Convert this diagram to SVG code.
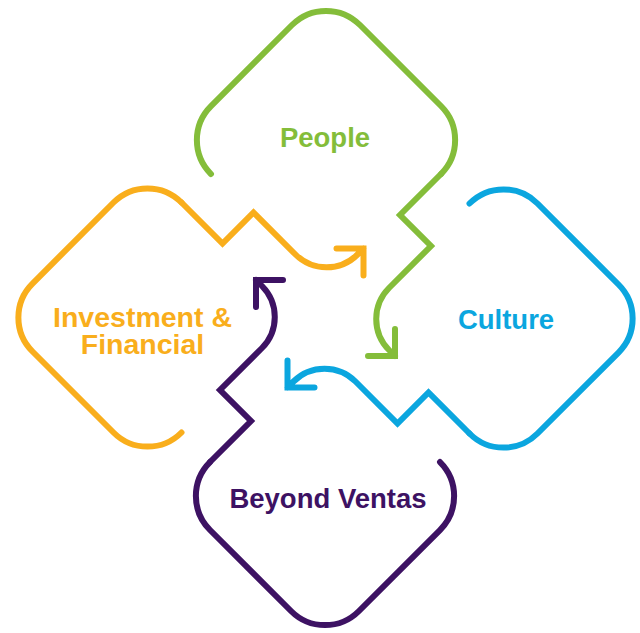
<svg xmlns="http://www.w3.org/2000/svg" xmlns:xlink="http://www.w3.org/1999/xlink" width="640" height="633" viewBox="0 0 640 633">
  <style>
    .line { fill: none; stroke-width: 6; stroke-linecap: round; stroke-linejoin: miter; stroke-miterlimit: 10; }
    .label { font-family: "Liberation Sans", Arial, Helvetica, sans-serif; font-weight: bold; font-size: 27.5px; text-anchor: middle; }
    .label.big { font-size: 28.5px; }
    .green { stroke: #84BD3A; }
    .orange { stroke: #F9AE1C; }
    .blue { stroke: #0BA6DF; }
    .purple { stroke: #3D1263; }
  </style>
  <defs>
    <!-- open rounded diamond, drawn in the top position; the others are 90-degree turns of it -->
    <path id="loop" d="M211,174 A48,48 0 0 1 211,106 L292,25 A48,48 0 0 1 360,25 L441,106 A48,48 0 0 1 441,174"/>
    <!-- zigzag tail leaving the diamond and curling into an arrow -->
    <path id="tail" d="M441,174 L400,215 L431,246 L389,288 A44,44 0 0 0 389,350 L395,356 M395,329 L395,356 L368,356"/>
  </defs>

  <g id="people">
    <use xlink:href="#loop" class="line green"/>
    <text class="label" x="325" y="147" fill="#84BD3A">People</text>
  </g>

  <g id="culture">
    <use xlink:href="#loop" class="line blue" transform="rotate(90 325.5 318)"/>
    <text class="label" x="506" y="329" fill="#0BA6DF">Culture</text>
  </g>

  <g id="beyond-ventas">
    <use xlink:href="#loop" class="line purple" transform="rotate(180 325.5 318)"/>
    <text class="label" x="328" y="508" fill="#3D1263">Beyond Ventas</text>
  </g>

  <g id="investment-financial">
    <use xlink:href="#loop" class="line orange" transform="rotate(270 325.5 318)"/>
    <text class="label big" fill="#F9AE1C"><tspan x="142.5" y="327">Investment &amp;</tspan><tspan x="142.5" y="354">Financial</tspan></text>
  </g>

  <g id="connectors">
    <use xlink:href="#tail" class="line green"/>
    <use xlink:href="#tail" class="line blue" transform="rotate(90 325.5 318)"/>
    <use xlink:href="#tail" class="line purple" transform="rotate(180 325.5 318)"/>
    <use xlink:href="#tail" class="line orange" transform="rotate(270 325.5 318)"/>
  </g>
</svg>
